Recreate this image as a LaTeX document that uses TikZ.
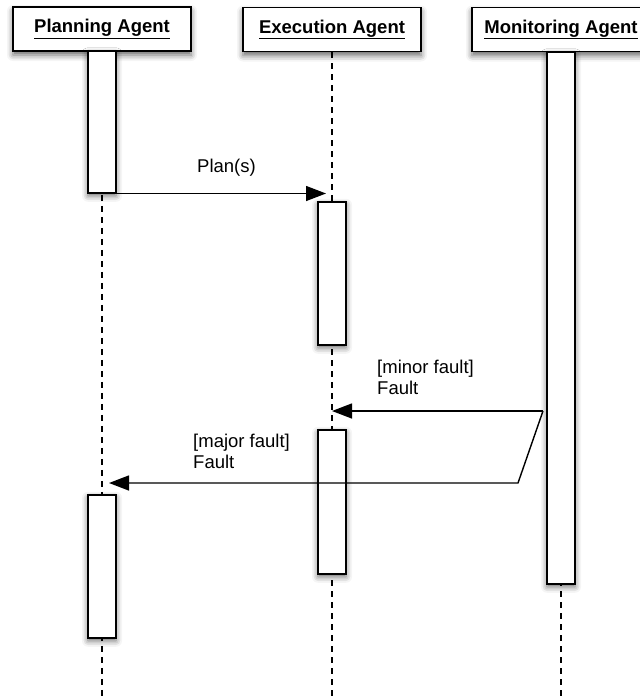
\documentclass[tikz,border=0pt]{standalone}
\usepackage{fontspec}
\setmainfont{Liberation Sans}
\usetikzlibrary{arrows.meta,shadows.blur}
\tikzset{
  hd/.style={draw,fill=white,line width=1.5pt,minimum width=178pt,minimum height=44pt,inner sep=0pt,
    font=\fontsize{18.5}{22}\selectfont\bfseries,
    blur shadow={shadow xshift=0pt,shadow yshift=-4pt,shadow blur radius=6pt,shadow opacity=60}},
  act/.style={draw,fill=white,line width=1.5pt,minimum width=28pt,inner sep=0pt,anchor=north,
    blur shadow={shadow xshift=0pt,shadow yshift=-3pt,shadow blur radius=6pt,shadow opacity=60}},
  life/.style={line width=1.6pt,dash pattern=on 6pt off 5pt},
  msg/.style={line width=1.4pt,-{Triangle[length=20pt,width=15pt]}},
  lbl/.style={font=\fontsize{18.5}{21}\selectfont,align=left,inner sep=0pt}
}
\newcommand{\actbar}[4]{\node[act,minimum height=#4-#3] (#1) at (#2,#3) {};}

\begin{document}
\begin{tikzpicture}[x=1pt,y=-1pt]
\useasboundingbox (0,0) rectangle (640,699);
\clip (0,0) rectangle (640,699);
% agents
\node[hd] (pa) at (102,29) {\underline{Planning Agent}};
\node[hd] (ea) at (332,29.5) {\underline{Execution Agent}};
\node[hd] (ma) at (561,29.5) {\underline{Monitoring Agent}};
\foreach \n in {pa,ea,ma} \draw[life] (\n.south) -- ++(0,700);
% activations
\actbar{pa1}{102}{50}{192}
\actbar{pa2}{102}{494}{637}
\actbar{ea1}{332}{201}{344}
\actbar{ea2}{332}{429}{573}
\actbar{ma1}{561}{51}{583}
% messages
\draw[msg,shorten >=6pt] (pa1.south east) -- (pa1.south east -| ea.south);
\node[lbl,anchor=base west] (plan) at (197,172) {Plan(s)};
\coordinate (mf) at (543,411);
\coordinate (bend) at (518,483);
\draw[msg] (mf) -- (mf -| ea.south);
\draw[msg,shorten >=7pt] (mf) -- (bend) -- (bend -| pa.south);
\node[lbl,anchor=base west] (minor) at (377,394) {[minor fault]\\Fault};
\node[lbl,anchor=base west] (major) at (193,468) {[major fault]\\Fault};
\end{tikzpicture}
\end{document}
